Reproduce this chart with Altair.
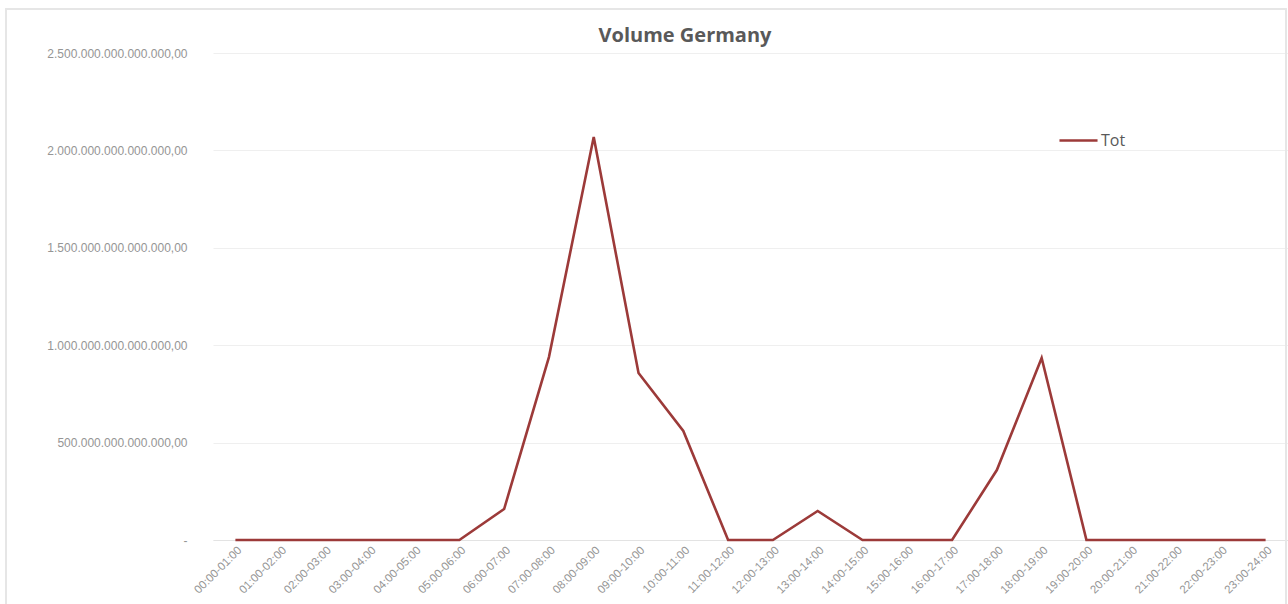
import altair as alt
import pandas as pd

# Hourly slots and traded volume per slot
slots = [
    "00:00-01:00", "01:00-02:00", "02:00-03:00", "03:00-04:00", "04:00-05:00",
    "05:00-06:00", "06:00-07:00", "07:00-08:00", "08:00-09:00", "09:00-10:00",
    "10:00-11:00", "11:00-12:00", "12:00-13:00", "13:00-14:00", "14:00-15:00",
    "15:00-16:00", "16:00-17:00", "17:00-18:00", "18:00-19:00", "19:00-20:00",
    "20:00-21:00", "21:00-22:00", "22:00-23:00", "23:00-24:00",
]
volume = [
    0, 0, 0, 0, 0,
    0, 1.59e14, 9.39e14, 2.069e15, 8.57e14,
    5.60e14, 0, 0, 1.49e14, 0,
    0, 0, 3.59e14, 9.34e14, 0,
    0, 0, 0, 0,
]
series = ["Tot"] * len(slots)
y_ticks = [0, 5e14, 1e15, 1.5e15, 2e15, 2.5e15]
chart_title = "Volume Germany"

df = pd.DataFrame({"slot": slots, "volume": volume, "series": series})

GREY = "#595959"
LABEL = "#959595"
LINE = "#9C3A39"

line = alt.Chart(df).mark_line(strokeWidth=2.6, clip=False).encode(
    x=alt.X(
        "slot:N",
        sort=slots,
        scale=alt.Scale(paddingInner=0, paddingOuter=0.5),
        axis=alt.Axis(
            title=None,
            labelAngle=-45,
            labelFontSize=11.5,
            labelColor=LABEL,
            labelFont="Liberation Sans",
            labelPadding=4,
            ticks=False,
            domainColor="#E3E3E3",
            domainWidth=1,
            grid=False,
        ),
    ),
    y=alt.Y(
        "volume:Q",
        scale=alt.Scale(domain=[0, 2.5e15], nice=False),
        axis=alt.Axis(
            title=None,
            values=y_ticks,
            labelExpr="datum.value == 0 ? '-' : replace(format(datum.value, ',d'), regexp(',', 'g'), '.') + ',00'",
            labelFontSize=12,
            labelColor=LABEL,
            labelFont="Liberation Sans",
            labelPadding=26,
            ticks=False,
            domain=False,
            gridColor="#EFEFEF",
            gridWidth=1.2,
        ),
    ),
    color=alt.Color(
        "series:N",
        scale=alt.Scale(range=[LINE]),
        legend=alt.Legend(
            title=None,
            orient="none",
            legendX=845,
            legendY=67,
            symbolType="stroke",
            symbolSize=1450,
            symbolStrokeWidth=2.6,
            labelFontSize=16,
            labelColor=GREY,
            labelFont="Open Sans",
            labelOffset=2,
        ),
    ),
)

# Light frame around the whole chart area
frame = alt.Chart(df).mark_rect(
    fill=None, stroke="#E6E6E6", strokeWidth=1.5, clip=False
).encode(
    x=alt.value(-207), x2=alt.value(1073), y=alt.value(-44), y2=alt.value(560)
)

# Chart heading, centred over the upper part of the frame
heading = alt.Chart(pd.DataFrame({"t": [chart_title]})).mark_text(
    font="Open Sans",
    fontSize=20,
    fontWeight="bold",
    color=GREY,
    align="center",
    baseline="middle",
    clip=False,
).encode(text="t:N", x=alt.value(472), y=alt.value(-17))

chart = alt.layer(frame, line, heading).properties(
    width=1075,
    height=487,
    background="white",
    autosize=alt.AutoSizeParams(type="none"),
    padding={"left": 213, "top": 53, "right": 0, "bottom": 64},
).configure_view(stroke=None)

chart.save("out.html", embed_options={"renderer": "svg", "actions": False})
